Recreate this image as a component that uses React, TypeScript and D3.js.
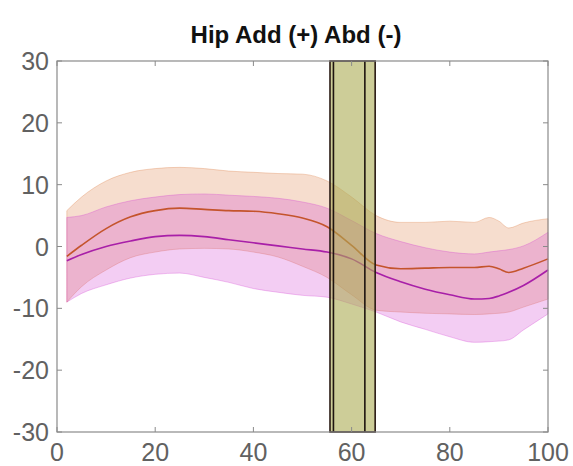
import * as d3 from 'd3'
import { useEffect, useRef } from 'react'

// % gait cycle sample points
const pct = [2, 5, 10, 15, 20, 25, 30, 35, 40, 45, 50, 55, 60, 65, 70, 75, 80, 85, 88, 90, 92, 95, 100]

// group 1 (orange)
const orangeMean = [-1.6, 0.2, 2.9, 4.8, 5.8, 6.2, 6.0, 5.8, 5.7, 5.3, 4.6, 3.2, 0.2, -3.0, -3.6, -3.5, -3.4, -3.4, -3.2, -3.6, -4.2, -3.5, -2.0]
const orangeUpper = [5.8, 8.0, 10.6, 12.0, 12.6, 12.8, 12.6, 12.2, 12.0, 11.8, 11.7, 10.6, 8.0, 5.0, 3.9, 3.9, 4.1, 3.9, 4.7, 4.1, 3.0, 3.8, 4.5]
const orangeLower = [-9.0, -6.5, -3.8, -1.8, -0.9, -0.4, -0.3, -0.4, -0.9, -1.7, -3.2, -5.0, -7.8, -10.3, -10.6, -10.8, -10.9, -11.0, -10.9, -10.8, -10.6, -9.8, -8.5]

// group 2 (magenta)
const magentaMean = [-2.3, -1.3, 0.0, 0.9, 1.6, 1.8, 1.6, 1.1, 0.6, 0.1, -0.4, -0.9, -2.0, -4.2, -5.7, -6.9, -7.8, -8.5, -8.4, -8.0, -7.4, -6.3, -3.8]
const magentaUpper = [4.7, 5.0, 6.4, 7.4, 8.0, 8.4, 8.5, 8.3, 8.1, 7.8, 7.2, 6.2, 4.2, 2.1, 0.8, -0.2, -0.9, -1.2, -0.9, -0.7, -0.5, 0.1, 2.3]
const magentaLower = [-9.0, -7.6, -6.2, -5.1, -4.5, -4.3, -5.0, -5.8, -6.8, -7.4, -7.9, -8.2, -9.3, -10.6, -12.2, -13.4, -14.6, -15.5, -15.4, -15.3, -15.1, -13.5, -10.9]

// toe-off band and lines (% cycle)
const toeOffBand = [55.6, 64.8]
const toeOffLines = [56.3, 62.7]

const xTicks = [0, 20, 40, 60, 80, 100]
const yTicks = [-30, -20, -10, 0, 10, 20, 30]

export default function App() {
  const ref = useRef(null)

  useEffect(() => {
    const svg = d3.select(ref.current)
    svg.selectAll('*').remove()
    const margin = { top: 61, right: 25, bottom: 34, left: 57 }
    const width = 573
    const height = 466

    const x = d3.scaleLinear().domain([0, 100]).range([margin.left, width - margin.right])
    const y = d3.scaleLinear().domain([-30, 30]).range([height - margin.bottom, margin.top])

    const plot = svg.append('g')

    const band = (upper, lower, color) => {
      const area = d3.area()
        .x((d, i) => x(pct[i]))
        .y0((d, i) => y(lower[i]))
        .y1((d) => y(d))
        .curve(d3.curveMonotoneX)
      plot.append('path')
        .datum(upper)
        .attr('d', area)
        .attr('fill', color)
        .attr('fill-opacity', 0.25)
        .attr('stroke', color)
        .attr('stroke-opacity', 0.3)
        .attr('stroke-width', 1)
    }
    const line = (vals, color) => {
      const l = d3.line()
        .x((d, i) => x(pct[i]))
        .y((d) => y(d))
        .curve(d3.curveMonotoneX)
      plot.append('path')
        .datum(vals)
        .attr('d', l)
        .attr('fill', 'none')
        .attr('stroke', color)
        .attr('stroke-width', 1.6)
    }

    band(orangeUpper, orangeLower, 'rgb(220,120,60)')
    band(magentaUpper, magentaLower, 'rgb(207,55,207)')
    line(orangeMean, '#c4542c')
    line(magentaMean, '#a81fa8')

    // toe-off band
    plot.append('rect')
      .attr('x', x(toeOffBand[0]))
      .attr('y', y(30))
      .attr('width', x(toeOffBand[1]) - x(toeOffBand[0]))
      .attr('height', y(-30) - y(30))
      .attr('fill', 'rgb(172,172,84)')
      .attr('fill-opacity', 0.6)
      .attr('stroke', '#2a1a14')
      .attr('stroke-width', 1.6)
    plot.selectAll('.toe-line')
      .data(toeOffLines)
      .join('line')
      .attr('class', 'toe-line')
      .attr('x1', (d) => x(d))
      .attr('x2', (d) => x(d))
      .attr('y1', y(30))
      .attr('y2', y(-30))
      .attr('stroke', '#1e1410')
      .attr('stroke-width', 1.6)

    // box + ticks
    const axisColor = '#8a8a8a'
    svg.append('rect')
      .attr('x', x(0)).attr('y', y(30))
      .attr('width', x(100) - x(0)).attr('height', y(-30) - y(30))
      .attr('fill', 'none').attr('stroke', axisColor).attr('stroke-width', 1.2)

    const tl = 5
    const ticks = svg.append('g').attr('stroke', axisColor).attr('stroke-width', 1)
    xTicks.forEach((t) => {
      ticks.append('line').attr('x1', x(t)).attr('x2', x(t)).attr('y1', y(-30)).attr('y2', y(-30) - tl)
      ticks.append('line').attr('x1', x(t)).attr('x2', x(t)).attr('y1', y(30)).attr('y2', y(30) + tl)
    })
    yTicks.forEach((t) => {
      ticks.append('line').attr('x1', x(0)).attr('x2', x(0) + tl).attr('y1', y(t)).attr('y2', y(t))
      ticks.append('line').attr('x1', x(100)).attr('x2', x(100) - tl).attr('y1', y(t)).attr('y2', y(t))
    })

    const labelColor = '#616161'
    svg.append('g')
      .selectAll('text')
      .data(xTicks)
      .join('text')
      .attr('x', (d) => x(d))
      .attr('y', y(-30) + 29)
      .attr('text-anchor', 'middle')
      .attr('fill', labelColor)
      .attr('font-family', 'Liberation Sans, Arial, sans-serif')
      .attr('font-size', 25)
      .text((d) => d)

    svg.append('g')
      .selectAll('text')
      .data(yTicks)
      .join('text')
      .attr('x', x(0) - 8)
      .attr('y', (d) => y(d))
      .attr('dy', '0.36em')
      .attr('text-anchor', 'end')
      .attr('fill', labelColor)
      .attr('font-family', 'Liberation Sans, Arial, sans-serif')
      .attr('font-size', 25)
      .text((d) => d)

    svg.append('text')
      .attr('x', 296)
      .attr('y', 43)
      .attr('text-anchor', 'middle')
      .attr('font-family', 'Liberation Sans, Arial, sans-serif')
      .attr('font-weight', 'bold')
      .attr('font-size', 24)
      .attr('fill', '#111')
      .text('Hip Add (+) Abd (-)')
  }, [])

  return (
    <svg ref={ref} width={573} height={466} style={{ position: 'absolute', left: 0, top: 0, background: '#fff' }} />
  )
}
